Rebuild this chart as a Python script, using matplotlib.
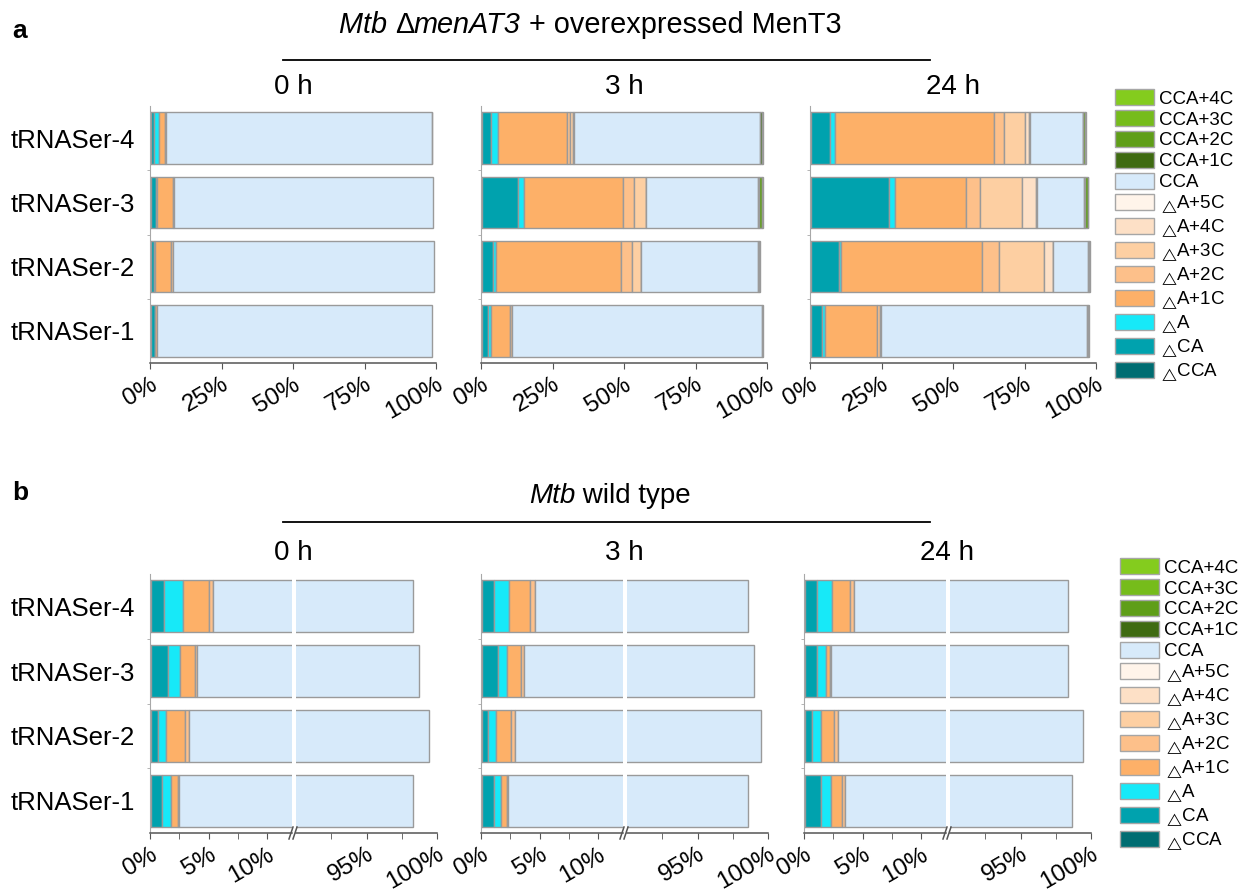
import numpy as np
import matplotlib.pyplot as plt
from matplotlib.lines import Line2D
from matplotlib.patches import Patch
import matplotlib.transforms as mtransforms

plt.rcParams['font.family'] = ['Liberation Sans', 'DejaVu Sans']
plt.rcParams['mathtext.fontset'] = 'custom'
plt.rcParams['mathtext.rm'] = 'Liberation Sans'
plt.rcParams['mathtext.it'] = 'Liberation Sans:italic'

trnas = ['tRNASer-1', 'tRNASer-2', 'tRNASer-3', 'tRNASer-4']
timepoints = ['0 h', '3 h', '24 h']
tri = '$_\\triangle\\!$'
species = [tri + 'CCA', tri + 'CA', tri + 'A', tri + 'A+1C', tri + 'A+2C', tri + 'A+3C',
           tri + 'A+4C', tri + 'A+5C', 'CCA', 'CCA+1C', 'CCA+2C', 'CCA+3C', 'CCA+4C']
colors = ['#006d72', '#00a2ae', '#17e9f8', '#fdb068', '#fdc08a', '#fdcfa2', '#fde0c6',
          '#fff4ea', '#d7eafa', '#3f6b12', '#5f9e18', '#76bc1b', '#84cc1e']

# % of reads per species, rows = tRNASer-1..4, columns follow `species`
ment3_0h = [[0.3, 1.3, 0.2, 0.5, 0, 0, 0, 0, 96.3, 0, 0, 0, 0],
            [0.3, 1.2, 0.2, 5.8, 0.5, 0, 0, 0, 91.3, 0, 0, 0, 0],
            [0.4, 1.7, 0.5, 5.5, 0.4, 0, 0, 0, 90.3, 0, 0, 0, 0],
            [0.3, 1.2, 1.8, 2.0, 0.3, 0.1, 0, 0, 92.9, 0.1, 0, 0, 0]]
ment3_3h = [[0.4, 2.2, 0.9, 6.8, 0.4, 0.2, 0, 0, 87.5, 0.2, 0, 0, 0],
            [0.4, 3.9, 1.0, 43.7, 3.8, 3.1, 0.1, 0, 40.7, 0.5, 0.2, 0, 0],
            [0.5, 12.4, 2.3, 34.3, 3.9, 4.2, 0.2, 0, 39.1, 0.2, 1.2, 0.2, 0],
            [0.5, 3.1, 2.2, 24.3, 1.0, 1.0, 0.4, 0, 65.1, 0.6, 0.3, 0, 0]]
ment3_24h = [[0.4, 3.7, 1.2, 18.1, 1.0, 0.5, 0, 0, 71.9, 0.5, 0.2, 0, 0],
             [0.5, 9.5, 0.9, 49.1, 6.1, 15.8, 2.9, 0.3, 12.0, 0.4, 0.3, 0, 0],
             [0.5, 27.0, 2.3, 24.8, 4.8, 14.9, 4.6, 0.3, 16.7, 0.2, 1.0, 0.2, 0],
             [0.5, 6.5, 1.8, 55.5, 3.5, 7.3, 1.3, 0.5, 18.4, 0.2, 0.8, 0.2, 0]]

wt_0h = [[0.1, 0.95, 0.72, 0.6, 0.1, 0, 0, 0, 95.83, 0, 0, 0, 0],
         [0.1, 0.55, 0.7, 1.65, 0.35, 0, 0, 0, 96.05, 0, 0, 0, 0],
         [0.1, 1.4, 1.05, 1.3, 0.2, 0, 0, 0, 94.65, 0, 0, 0, 0],
         [0.1, 1.1, 1.65, 2.15, 0.35, 0, 0, 0, 92.95, 0, 0, 0, 0]]
wt_3h = [[0.1, 1.05, 0.55, 0.5, 0.07, 0, 0, 0, 96.33, 0, 0, 0, 0],
         [0.1, 0.53, 0.64, 1.29, 0.31, 0, 0, 0, 96.63, 0, 0, 0, 0],
         [0.1, 1.35, 0.77, 1.2, 0.23, 0, 0, 0, 95.35, 0, 0, 0, 0],
         [0.1, 1.0, 1.3, 1.8, 0.45, 0, 0, 0, 93.95, 0, 0, 0, 0]]
wt_24h = [[0.1, 1.33, 0.85, 0.99, 0.23, 0, 0, 0, 95.17, 0, 0, 0, 0],
          [0.1, 0.61, 0.72, 1.16, 0.29, 0, 0, 0, 96.57, 0, 0, 0, 0],
          [0.1, 1.04, 0.71, 0.4, 0.06, 0, 0, 0, 96.04, 0, 0, 0, 0],
          [0.1, 0.98, 1.34, 1.51, 0.34, 0, 0, 0, 94.08, 0, 0, 0, 0]]

W, H = 1247, 892
EDGE = '#9a9a9a'
fig = plt.figure(figsize=(W / 100, H / 100), dpi=100)


def px_ax(x0, y0, x1, y1):
    # axes from pixel box (top-left origin)
    return fig.add_axes([x0 / W, 1 - y1 / H, (x1 - x0) / W, (y1 - y0) / H])


def stacked(ax, table):
    vals = np.array(table, dtype=float)
    y = np.arange(len(trnas))
    left = np.zeros(len(trnas))
    for j in range(len(species)):
        m = vals[:, j] > 0
        ax.barh(y[m], vals[m, j], left=left[m], height=0.8, color=colors[j],
                edgecolor=EDGE, linewidth=1.0)
        left += vals[:, j]
    ax.set_ylim(-0.5, 3.5)


def style(ax, left_spine=True):
    for s in ['top', 'right']:
        ax.spines[s].set_visible(False)
    ax.spines['bottom'].set_color('#555555')
    ax.spines['bottom'].set_linewidth(1.1)
    ax.spines['left'].set_color('#a8a8a8')
    ax.spines['left'].set_visible(left_spine)
    ax.tick_params(axis='x', which='both', length=4, color='#555555', labelsize=17.5)
    ax.set_yticks(range(len(trnas)))
    ax.set_yticks([0.5, 1.5, 2.5], minor=True)
    ax.tick_params(axis='y', which='major', length=0, pad=11, labelsize=18.5)
    ax.tick_params(axis='y', which='minor', length=2, color='#a8a8a8')
    if not left_spine:
        ax.tick_params(axis='y', which='minor', length=0)


def rot_labels(ax):
    off = mtransforms.ScaledTranslation(11 / 100, 0, fig.dpi_scale_trans)
    for lbl in ax.get_xticklabels():
        lbl.set_rotation(30)
        lbl.set_ha('right')
        lbl.set_transform(lbl.get_transform() + off)


def rich_text(xc, yc, parts, size):
    # centred line made of pieces with their own font style
    r = fig.canvas.get_renderer()
    objs = [fig.text(0, 1 - yc / H, s, fontstyle=st, fontsize=size, va='center')
            for s, st in parts]
    widths = [t.get_window_extent(r).width for t in objs]
    x = xc - sum(widths) / 2
    for t, w in zip(objs, widths):
        t.set_x(x / W)
        x += w


# ---- panel a ----
a_tables = [ment3_0h, ment3_3h, ment3_24h]
a_x = [150, 481, 810]
for k, (x0, tab) in enumerate(zip(a_x, a_tables)):
    ax = px_ax(x0, 106, x0 + 286, 363)
    stacked(ax, tab)
    ax.set_xlim(0, 100)
    style(ax)
    ax.set_xticks([0, 25, 50, 75, 100])
    ax.set_xticklabels(['0%', '25%', '50%', '75%', '100%'])
    rot_labels(ax)
    if k == 0:
        ax.set_yticklabels(trnas)
    else:
        ax.set_yticklabels([])
    fig.text((x0 + 143) / W, 1 - 87 / H, timepoints[k], ha='center', va='center', fontsize=20)

# ---- panel b (broken axis 0-12 % | 90-100 %) ----
b_tables = [wt_0h, wt_3h, wt_24h]
b_x = [150, 481, 804]
for k, (x0, tab) in enumerate(zip(b_x, b_tables)):
    axl = px_ax(x0, 574, x0 + 142, 833)
    axr = px_ax(x0 + 146, 574, x0 + 287, 833)
    for ax in (axl, axr):
        stacked(ax, tab)
    axl.set_xlim(0, 142 / 11.7)
    axr.set_xlim(90, 100)
    style(axl)
    style(axr, left_spine=False)
    axl.set_xticks([0, 5, 10])
    axl.set_xticklabels(['0%', '5%', '10%'])
    axl.set_xticks([2.5, 7.5], minor=True)
    axr.set_xticks([95, 100])
    axr.set_xticklabels(['95%', '100%'])
    axr.set_xticks([92.5, 97.5], minor=True)
    axr.set_yticklabels([])
    rot_labels(axl)
    rot_labels(axr)
    if k == 0:
        axl.set_yticklabels(trnas)
    else:
        axl.set_yticklabels([])
    # break marks on the x axis
    cx = x0 + 144
    for dx in (-3, 1):
        fig.add_artist(Line2D([(cx + dx - 2) / W, (cx + dx + 2) / W],
                              [1 - 839 / H, 1 - 827 / H], color='#555555', lw=1.1))
    fig.text((x0 + 143) / W, 1 - 553 / H, timepoints[k], ha='center', va='center', fontsize=20)

# ---- headers ----
fig.text(12 / W, 1 - 31 / H, 'a', fontsize=19, fontweight='bold', va='center')
fig.text(12 / W, 1 - 493 / H, 'b', fontsize=19, fontweight='bold', va='center')
rich_text(590, 25, [('Mtb ', 'italic'), ('\u0394', 'normal'), ('menAT3', 'italic'),
                    (' + overexpressed MenT3', 'normal')], 20.8)
rich_text(610, 496, [('Mtb', 'italic'), (' wild type', 'normal')], 20)
for yy in (60, 522):
    fig.add_artist(Line2D([283 / W, 930 / W], [1 - yy / H, 1 - yy / H], color='black', lw=1.3))

# ---- legends ----
handles = [Patch(facecolor=c, edgecolor='#a6a6a6', linewidth=1.0) for c in colors][::-1]
labels = species[::-1]
for lx, ty in ((1115, 89), (1120, 558)):
    fig.legend(handles, labels, loc='upper left', bbox_to_anchor=(lx / W, 1 - ty / H),
               frameon=False, fontsize=13.5, handlelength=2.08, handleheight=0.96,
               labelspacing=0.125, handletextpad=0.27, borderpad=0, borderaxespad=0)

fig.savefig('out.png', dpi=100)
